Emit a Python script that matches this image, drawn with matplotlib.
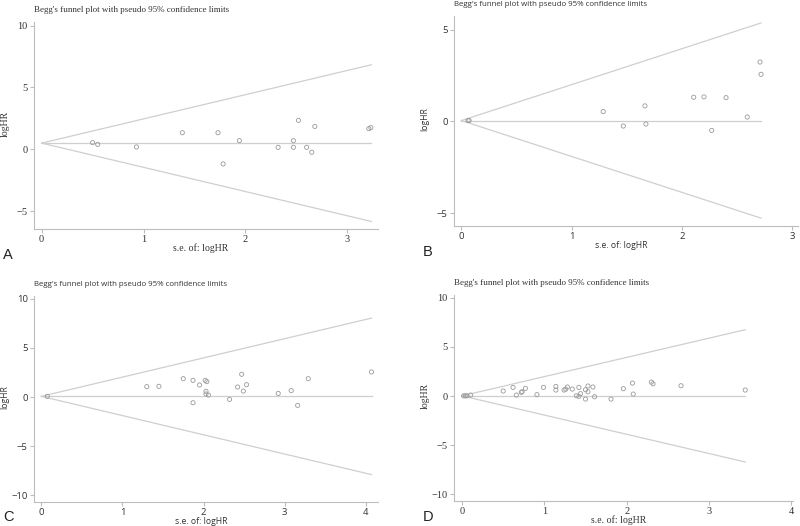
import matplotlib
matplotlib.use('Agg')
import matplotlib.pyplot as plt
import numpy as np

W, H = 800, 526

# panel A
a_se = [0.50, 0.55, 0.93, 1.38, 1.73, 1.78, 1.94, 2.32, 2.47, 2.47, 2.52, 2.60, 2.65, 2.68, 3.21, 3.23]
a_hr = [0.54, 0.40, 0.19, 1.34, 1.34, -1.18, 0.70, 0.16, 0.70, 0.16, 2.34, 0.16, -0.24, 1.85, 1.67, 1.75]
a_pooled = 0.5
a_semax = 3.235

# panel B
b_se = [0.06, 0.07, 1.285, 1.467, 1.663, 1.672, 2.105, 2.198, 2.268, 2.398, 2.59, 2.706, 2.715]
b_hr = [0.05, 0.05, 0.54, -0.25, 0.85, -0.14, 1.32, 1.34, -0.49, 1.30, 0.24, 3.24, 2.57]
b_pooled = 0.05
b_semax = 2.715

# panel C
c_se = [0.074, 1.30, 1.45, 1.75, 1.87, 1.87, 1.95, 2.02, 2.04, 2.03, 2.03, 2.06,
        2.32, 2.47, 2.42, 2.49, 2.53, 2.92, 3.08, 3.16, 3.29, 4.07]
c_hr = [0.07, 1.06, 1.09, 1.87, 1.70, -0.58, 1.23, 1.70, 1.57, 0.58, 0.31, 0.20,
        -0.24, 2.32, 1.02, 0.61, 1.26, 0.37, 0.65, -0.85, 1.87, 2.56]
c_pooled = 0.07
c_semax = 4.07

# panel D
d_se = [0.02, 0.04, 0.06, 0.105, 0.50, 0.62, 0.66, 0.72, 0.73, 0.77, 0.91, 0.99,
        1.14, 1.14, 1.24, 1.26, 1.28, 1.34, 1.42, 1.39, 1.42, 1.44, 1.50, 1.50,
        1.53, 1.53, 1.59, 1.61, 1.81, 1.96, 2.07, 2.08, 2.30, 2.32, 2.66, 3.44]
d_hr = [0.02, 0.02, 0.02, 0.10, 0.51, 0.88, 0.10, 0.38, 0.44, 0.78, 0.14, 0.88,
        0.98, 0.61, 0.61, 0.70, 0.92, 0.71, 0.88, 0.03, -0.03, 0.24, -0.31, 0.64,
        1.02, 0.44, 0.92, -0.07, -0.31, 0.75, 1.32, 0.20, 1.42, 1.25, 1.05, 0.61]
d_pooled = 0.02
d_semax = 3.44

title = "Begg's funnel plot with pseudo 95% confidence limits"

serif = {'family': 'Liberation Serif', 'title': 6.5, 'label': 7.0, 'tick': 7.5}
sans = {'family': 'Open Sans', 'title': 5.7, 'label': 6.2, 'tick': 6.8}

panels = [
    # data, pooled, semax, box(px: left, top, right, bottom), xlim, ylim, xticks, yticks, font, letter
    (a_se, a_hr, a_pooled, a_semax, (34, 22, 378, 229), (-0.075, 3.3), (-6.45, 10.3),
     [0, 1, 2, 3], [-5, 0, 5, 10], serif, 'A'),
    (b_se, b_hr, b_pooled, b_semax, (454, 16, 798, 226), (-0.067, 3.05), (-5.7, 5.75),
     [0, 1, 2, 3], [-5, 0, 5], sans, 'B'),
    (c_se, c_hr, c_pooled, c_semax, (34, 296, 378, 502), (-0.09, 4.15), (-10.7, 10.3),
     [0, 1, 2, 3, 4], [-10, -5, 0, 5, 10], sans, 'C'),
    (d_se, d_hr, d_pooled, d_semax, (454, 295, 793, 501), (-0.097, 4.02), (-10.7, 10.3),
     [0, 1, 2, 3, 4], [-10, -5, 0, 5, 10], serif, 'D'),
]

fig = plt.figure(figsize=(W / 100, H / 100), dpi=100, facecolor='w')

line_c = '#cfcfcf'
axis_c = '#bdbdbd'
text_c = '#333333'

for se, hr, pooled, semax, box, xlim, ylim, xt, yt, f, letter in panels:
    l, t, r, b = box
    fam = f['family']
    ax = fig.add_axes([l / W, 1 - b / H, (r - l) / W, (b - t) / H])
    se_line = np.array([0, semax])
    ax.plot(se_line, pooled + 1.96 * se_line, color=line_c, lw=0.9)
    ax.plot(se_line, pooled - 1.96 * se_line, color=line_c, lw=0.9)
    ax.plot(se_line, [pooled, pooled], color=line_c, lw=0.9)
    ax.scatter(se, hr, s=9, facecolors='none', edgecolors='#9a9a9a', linewidths=0.6, zorder=3)
    ax.set_xlim(*xlim)
    ax.set_ylim(*ylim)
    ax.set_xticks(xt)
    ax.set_yticks(yt)
    ax.set_yticklabels([str(v).replace('-', '\u2212') for v in yt])
    for s in ['top', 'right']:
        ax.spines[s].set_visible(False)
    for s in ['left', 'bottom']:
        ax.spines[s].set_color(axis_c)
        ax.spines[s].set_linewidth(0.8)
    ax.tick_params(axis='both', colors=axis_c, length=3, width=0.8, labelcolor=text_c,
                   labelsize=f['tick'], pad=1.5)
    for lab in ax.get_xticklabels() + ax.get_yticklabels():
        lab.set_family(fam)
    cx = (l + r) / 2 - 5
    fig.text(cx / W, 1 - (b + 19) / H, 's.e. of: logHR', ha='center', va='center',
             family=fam, fontsize=f['label'], color=text_c)
    fig.text((l - 29) / W, 1 - ((t + b) / 2 - 2) / H, 'logHR', ha='center', va='center',
             rotation=90, family=fam, fontsize=f['label'], color=text_c)
    fig.text(l / W, 1 - max(t - 12, 5) / H, title, ha='left', va='center',
             family=fam, fontsize=f['title'], color=text_c)
    fig.text((l - 31) / W, 1 - min(b + 26, 517) / H, letter, ha='left', va='center',
             family='Liberation Sans', fontsize=10.5, color='#222222')

plt.savefig('out.png', dpi=100, facecolor='w')
